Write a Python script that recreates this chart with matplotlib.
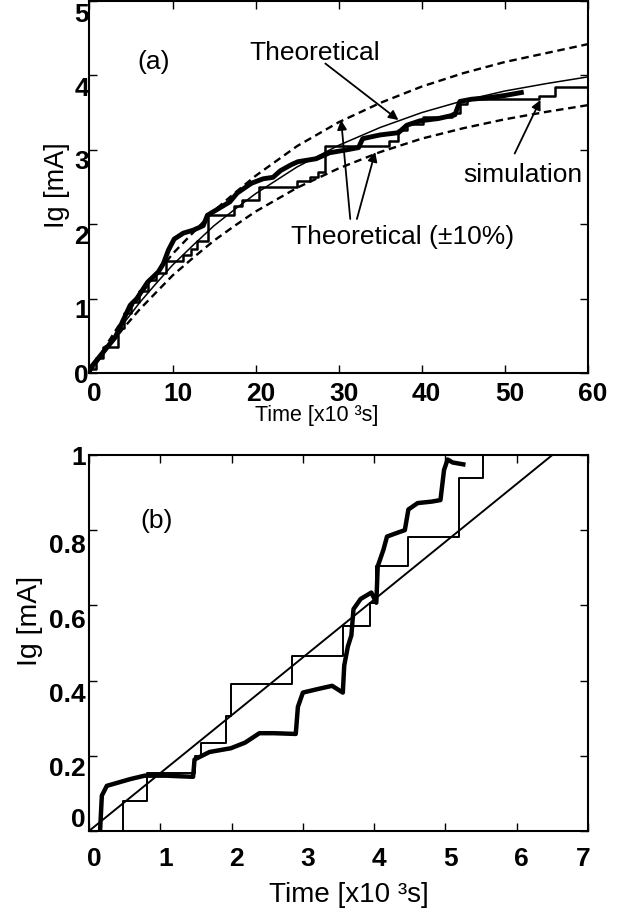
import matplotlib
matplotlib.use('Agg')
import matplotlib.pyplot as plt
from matplotlib.transforms import ScaledTranslation

plt.rcParams['font.family'] = ['Liberation Sans', 'DejaVu Sans']

# ---- panel (a): long run, time in 10^3 s ----
theo_t = [0, 2, 4, 6, 8, 10, 12.5, 15, 17.5, 20, 25, 30, 35, 40, 45, 50, 55, 60]
theo_I = [0, 0.34, 0.65, 0.94, 1.20, 1.45, 1.72, 1.98, 2.20, 2.41, 2.77, 3.06, 3.30, 3.50, 3.66, 3.79, 3.89, 3.98]
theo_up = [0, 0.37, 0.72, 1.03, 1.32, 1.60, 1.89, 2.18, 2.42, 2.65, 3.05, 3.37, 3.63, 3.85, 4.03, 4.18, 4.30, 4.42]
theo_lo = [0, 0.31, 0.59, 0.85, 1.08, 1.31, 1.55, 1.78, 1.98, 2.17, 2.49, 2.75, 2.97, 3.15, 3.29, 3.41, 3.51, 3.60]

meas_t = [0, 1.0, 3.1, 4.9, 5.7, 7.0, 8.3, 8.9, 9.5, 10.2, 11.3, 12.5, 13.7, 14.2, 15.4, 16.9, 17.8,
          19.5, 20.9, 22.1, 23.0, 24.3, 25.1, 27.3, 28.9, 31.0, 32.4, 32.9, 35.0, 37.2, 38.2, 39.8,
          42.0, 44.0, 44.6, 46.0, 48.0, 50.0, 52.0]
meas_I = [0.05, 0.19, 0.48, 0.91, 1.0, 1.22, 1.36, 1.47, 1.65, 1.80, 1.88, 1.92, 1.98, 2.12, 2.20, 2.30, 2.42,
          2.55, 2.61, 2.63, 2.72, 2.80, 2.84, 2.88, 2.96, 3.0, 3.03, 3.15, 3.20, 3.23, 3.33, 3.39,
          3.42, 3.47, 3.65, 3.68, 3.70, 3.73, 3.77]

sim_t = [0, 0.8, 1.6, 3.4, 4.2, 5.0, 6.0, 7.0, 8.0, 9.2, 11.3, 12.2, 13.0, 14.3, 17.4, 18.4, 20.4,
         25.0, 26.5, 27.5, 28.4, 36.1, 37.2, 38.2, 40.2, 43.7, 44.6, 45.4, 54.1, 56.0, 60.0]
sim_I = [0.05, 0.2, 0.35, 0.6, 0.8, 0.95, 1.1, 1.25, 1.35, 1.51, 1.58, 1.67, 1.78, 2.13, 2.25, 2.33, 2.50,
         2.58, 2.63, 2.70, 3.05, 3.12, 3.27, 3.35, 3.44, 3.50, 3.62, 3.68, 3.73, 3.84, 3.84]

# ---- panel (b): first 7x10^3 s ----
theo2_t = [0, 6.5]
theo2_I = [0, 1.0]

meas2_t = [0.155, 0.18, 0.25, 0.58, 0.78, 1.08, 1.46, 1.48, 1.69, 1.99, 2.19, 2.39, 2.59, 2.90, 2.93,
           3.0, 3.2, 3.41, 3.56, 3.58, 3.63, 3.68, 3.71, 3.81, 3.96, 4.03, 4.05, 4.13, 4.18, 4.31,
           4.43, 4.48, 4.61, 4.81, 4.93, 4.98, 5.03, 5.10, 5.25]
meas2_I = [0.0, 0.094, 0.12, 0.138, 0.147, 0.147, 0.144, 0.19, 0.21, 0.22, 0.235, 0.26, 0.26, 0.258, 0.33,
           0.368, 0.377, 0.386, 0.368, 0.44, 0.49, 0.52, 0.59, 0.617, 0.634, 0.607, 0.704, 0.748, 0.783, 0.792,
           0.80, 0.855, 0.872, 0.876, 0.88, 0.96, 0.988, 0.98, 0.975]

sim2_t = [0, 0.47, 0.81, 1.49, 1.57, 1.92, 1.99, 2.85, 3.56, 3.94, 4.02, 4.48, 5.19, 5.52, 5.6]
sim2_I = [0, 0.08, 0.155, 0.20, 0.235, 0.305, 0.39, 0.466, 0.546, 0.606, 0.704, 0.781, 0.938, 1.1, 1.1]

top_yticks = [0, 1, 2, 3, 4, 5]
top_xticks = [0, 10, 20, 30, 40, 50, 60]
bot_yticks = [0, 0.2, 0.4, 0.6, 0.8, 1]
bot_yticklabels = ['0', '0.2', '0.4', '0.6', '0.8', '1']
bot_xticks = [0, 1, 2, 3, 4, 5, 6, 7]

fig = plt.figure(figsize=(6.3, 9.2), dpi=100)
ax1 = fig.add_axes([0.142, 0.5935, 0.791, 0.4043])
ax2 = fig.add_axes([0.1413, 0.0957, 0.7921, 0.4087])

dash = (0, (3.2, 2.0))
ax1.plot(theo_t, theo_up, color='k', lw=1.7, ls=dash)
ax1.plot(theo_t, theo_lo, color='k', lw=1.7, ls=dash)
ax1.plot(theo_t, theo_I, color='k', lw=1.1)
ax1.plot(meas_t, meas_I, color='k', lw=3.5, solid_joinstyle='round')
ax1.step(sim_t, sim_I, where='post', color='k', lw=1.8)

ax2.plot(theo2_t, theo2_I, color='k', lw=1.4)
ax2.step(sim2_t, sim2_I, where='post', color='k', lw=1.4)
ax2.plot(meas2_t, meas2_I, color='k', lw=3.2, solid_joinstyle='round')

ax1.set_xlim(0, 60)
ax1.set_ylim(0, 5)
ax2.set_xlim(0, 7)
ax2.set_ylim(0, 1)

ax1.set_xticks(top_xticks)
ax1.set_xticklabels([str(v) for v in top_xticks], fontweight='bold')
ax1.set_yticks(top_yticks)
ax1.set_yticklabels([str(v) for v in top_yticks], fontweight='bold')
ax2.set_xticks(bot_xticks)
ax2.set_xticklabels([str(v) for v in bot_xticks], fontweight='bold')
ax2.set_yticks(bot_yticks)
ax2.set_yticklabels(bot_yticklabels, fontweight='bold')

for ax in (ax1, ax2):
    ax.tick_params(direction='in', length=6, width=1, top=True, right=True, labelsize=19)
    for s in ax.spines.values():
        s.set_linewidth(1.5)
ax1.tick_params(axis='x', pad=5.5)
ax1.tick_params(axis='y', pad=0.5)
ax2.tick_params(axis='x', pad=11)
ax2.tick_params(axis='y', pad=2.5)

# the labels sit a little below / right of their ticks in the original
def shift(lab, dx, dy):
    lab.set_transform(lab.get_transform() + ScaledTranslation(dx / 100, dy / 100, fig.dpi_scale_trans))

for lab, dy in zip(ax1.get_yticklabels(), [0, -9, -9, -9, -10, -10]):
    shift(lab, 0, dy)
for lab, dy in zip(ax2.get_yticklabels(), [14, -10, -11, -12, -12, 0]):
    shift(lab, 0, dy)
for lab in ax1.get_xticklabels():
    shift(lab, 5, 0)
for lab in ax2.get_xticklabels()[:-1]:
    shift(lab, 5, 0)
shift(ax2.get_xticklabels()[-1], -5, 0)

ax1.set_xlabel('Time [x10 \u00b3s]', fontsize=15.5, va='top')
ax1.xaxis.set_label_coords(0.455, -0.084)
ax1.set_ylabel('Ig [mA]', fontsize=19.5, va='center')
ax1.yaxis.set_label_coords(-0.065, 0.508)

ax2.set_xlabel('Time [x10 \u00b3s]', fontsize=20, va='top')
ax2.xaxis.set_label_coords(0.52, -0.133)
ax2.set_ylabel('Ig [mA]', fontsize=20.5, va='center')
ax2.yaxis.set_label_coords(-0.119, 0.56)

tfs = 19
ax1.text(7.7, 4.20, '(a)', fontsize=tfs, ha='center', va='center')
ax1.text(27.1, 4.32, 'Theoretical', fontsize=tfs, ha='center', va='center')
ax1.text(52.2, 2.68, 'simulation', fontsize=tfs, ha='center', va='center')
ax1.text(37.7, 1.84, 'Theoretical (\u00b110%)', fontsize=tfs, ha='center', va='center')
ax2.text(0.95, 0.827, '(b)', fontsize=tfs, ha='center', va='center')

arrow = dict(arrowstyle='-|>', color='k', lw=1.3, mutation_scale=14, shrinkA=0, shrinkB=0)
ax1.annotate('', xy=(37.2, 3.40), xytext=(28.4, 4.16), arrowprops=arrow)
ax1.annotate('', xy=(54.3, 3.67), xytext=(51.2, 2.95), arrowprops=arrow)
ax1.annotate('', xy=(30.3, 3.40), xytext=(31.4, 2.07), arrowprops=arrow)
ax1.annotate('', xy=(34.4, 2.97), xytext=(32.2, 2.07), arrowprops=arrow)

fig.savefig('out.png', dpi=100)
